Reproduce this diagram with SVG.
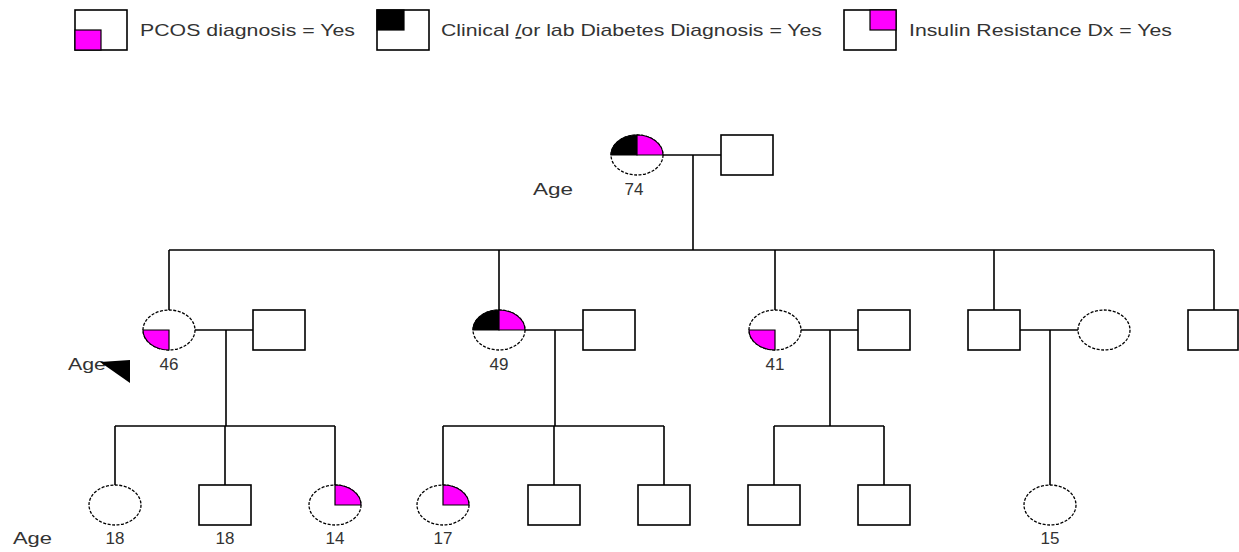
<svg xmlns="http://www.w3.org/2000/svg" width="1239" height="552" viewBox="0 0 1239 552">
<style>
.ln{stroke:#000;stroke-width:1.6;fill:none}
.sq{stroke:#000;stroke-width:1.6;fill:#fff}
.ci{stroke:#000;stroke-width:1.3;stroke-dasharray:3 1.5;fill:#fff}
.mg{fill:#ff00ff;stroke:#000;stroke-width:1.2}
.bk{fill:#000;stroke:#000;stroke-width:1.2}
text{font-family:"Liberation Sans",Arial,sans-serif;font-size:17px;fill:#333}
.c{text-anchor:middle}
</style>
<rect width="1239" height="552" fill="#fff"/>
<g id="legend">
  <g id="legend-pcos">
    <rect class="sq" x="75" y="10" width="52" height="40"/>
    <rect class="mg" x="75" y="30" width="26" height="20"/>
    <text x="140" y="36" textLength="215" lengthAdjust="spacingAndGlyphs">PCOS diagnosis = Yes</text>
  </g>
  <g id="legend-diabetes">
    <rect class="sq" x="377" y="10" width="52" height="40"/>
    <rect class="bk" x="377" y="10" width="27" height="20"/>
    <text x="441" y="36" textLength="381" lengthAdjust="spacingAndGlyphs">Clinical <tspan text-decoration="underline">/</tspan>or lab Diabetes Diagnosis = Yes</text>
  </g>
  <g id="legend-ir">
    <rect class="sq" x="844" y="10" width="52" height="40"/>
    <rect class="mg" x="870" y="10" width="26" height="20"/>
    <text x="909" y="36" textLength="263" lengthAdjust="spacingAndGlyphs">Insulin Resistance Dx = Yes</text>
  </g>
</g>
<g id="connectors">
  <path class="ln" d="M663 155H721M693 155V250M169 250H1214M169 250V310M499 250V310M775 250V310M994 250V310M1214 250V310"/>
  <path class="ln" d="M195 330H253M226 330V426M115 426H335M115 426V485M225 426V485M335 426V485"/>
  <path class="ln" d="M525 330H583M555 330V426M443 426H664M443 426V485M554 426V485M664 426V485"/>
  <path class="ln" d="M801 330H858M830 330V426M774 426H884M774 426V485M884 426V485"/>
  <path class="ln" d="M1020 330H1078M1050 330V485"/>
</g>
<g id="gen1-female-74">
  <ellipse class="ci" cx="637" cy="155" rx="26" ry="20"/>
  <path class="bk" d="M637 155H611A26 20 0 0 1 637 135Z"/>
  <path class="mg" d="M637 155V135A26 20 0 0 1 663 155Z"/>
  <text x="533" y="195" textLength="40" lengthAdjust="spacingAndGlyphs">Age</text>
  <text class="c" x="634" y="195">74</text>
</g>
<g id="gen1-male"><rect class="sq" x="721" y="135" width="52" height="40"/></g>

<g id="gen2-female-46">
  <ellipse class="ci" cx="169" cy="330" rx="26" ry="20"/>
  <path class="mg" d="M169 330H143A26 20 0 0 0 169 350Z"/>
  <text x="68" y="370" textLength="38" lengthAdjust="spacingAndGlyphs">Age</text>
  <polygon points="100,362 130,360 130,383" fill="#000"/>
  <text class="c" x="169" y="370">46</text>
</g>
<g id="gen2-male-1"><rect class="sq" x="253" y="310" width="52" height="40"/></g>
<g id="gen2-female-49">
  <ellipse class="ci" cx="499" cy="330" rx="26" ry="20"/>
  <path class="bk" d="M499 330H473A26 20 0 0 1 499 310Z"/>
  <path class="mg" d="M499 330V310A26 20 0 0 1 525 330Z"/>
  <text class="c" x="499" y="370">49</text>
</g>
<g id="gen2-male-2"><rect class="sq" x="583" y="310" width="52" height="40"/></g>
<g id="gen2-female-41">
  <ellipse class="ci" cx="775" cy="330" rx="26" ry="20"/>
  <path class="mg" d="M775 330H749A26 20 0 0 0 775 350Z"/>
  <text class="c" x="775" y="370">41</text>
</g>
<g id="gen2-male-3"><rect class="sq" x="858" y="310" width="52" height="40"/></g>
<g id="gen2-male-4"><rect class="sq" x="968" y="310" width="52" height="40"/></g>
<g id="gen2-female-spouse"><ellipse class="ci" cx="1104" cy="330" rx="26" ry="20"/></g>
<g id="gen2-male-5"><rect class="sq" x="1188" y="310" width="50" height="40"/></g>

<text x="13" y="544" textLength="39" lengthAdjust="spacingAndGlyphs">Age</text>
<g id="gen3-female-18">
  <ellipse class="ci" cx="115" cy="505" rx="26" ry="20"/>
  <text class="c" x="115" y="544">18</text>
</g>
<g id="gen3-male-18">
  <rect class="sq" x="199" y="485" width="52" height="40"/>
  <text class="c" x="225" y="544">18</text>
</g>
<g id="gen3-female-14">
  <ellipse class="ci" cx="335" cy="505" rx="26" ry="20"/>
  <path class="mg" d="M335 505V485A26 20 0 0 1 361 505Z"/>
  <text class="c" x="335" y="544">14</text>
</g>
<g id="gen3-female-17">
  <ellipse class="ci" cx="443" cy="505" rx="26" ry="20"/>
  <path class="mg" d="M443 505V485A26 20 0 0 1 469 505Z"/>
  <text class="c" x="443" y="544">17</text>
</g>
<g id="gen3-male-a"><rect class="sq" x="528" y="485" width="52" height="40"/></g>
<g id="gen3-male-b"><rect class="sq" x="638" y="485" width="52" height="40"/></g>
<g id="gen3-male-c"><rect class="sq" x="748" y="485" width="52" height="40"/></g>
<g id="gen3-male-d"><rect class="sq" x="858" y="485" width="52" height="40"/></g>
<g id="gen3-female-15">
  <ellipse class="ci" cx="1050" cy="505" rx="26" ry="20"/>
  <text class="c" x="1050" y="544">15</text>
</g>
</svg>
